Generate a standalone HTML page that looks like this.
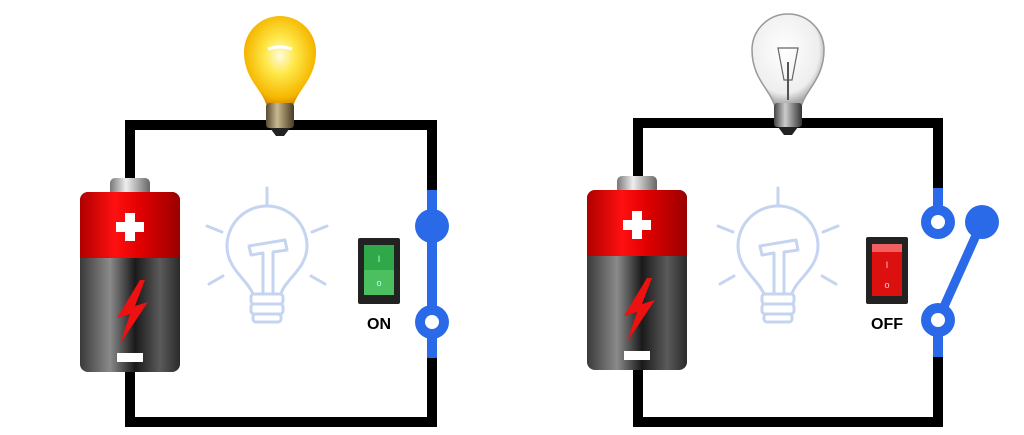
<!DOCTYPE html>
<html><head><meta charset="utf-8"><style>
html,body{margin:0;padding:0;background:#fff;}
svg{display:block}
</style></head><body>
<svg width="1024" height="435" viewBox="0 0 1024 435" xmlns="http://www.w3.org/2000/svg">
<defs>
  <linearGradient id="red" x1="0" x2="1">
    <stop offset="0" stop-color="#b00000"/><stop offset="0.35" stop-color="#ff1010"/><stop offset="0.6" stop-color="#e00000"/><stop offset="1" stop-color="#9a0000"/>
  </linearGradient>
  <linearGradient id="gray" x1="0" x2="1">
    <stop offset="0" stop-color="#3a3a3a"/><stop offset="0.3" stop-color="#8a8a8a"/><stop offset="0.55" stop-color="#1a1a1a"/><stop offset="0.8" stop-color="#5a5a5a"/><stop offset="1" stop-color="#2a2a2a"/>
  </linearGradient>
  <linearGradient id="cap" x1="0" x2="1">
    <stop offset="0" stop-color="#777"/><stop offset="0.4" stop-color="#eee"/><stop offset="1" stop-color="#666"/>
  </linearGradient>
  <radialGradient id="lit" cx="0.5" cy="0.45" r="0.6">
    <stop offset="0" stop-color="#fffbe0"/><stop offset="0.35" stop-color="#ffe84a"/><stop offset="0.8" stop-color="#f5b800"/><stop offset="1" stop-color="#d08000"/>
  </radialGradient>
  <radialGradient id="off" cx="0.45" cy="0.4" r="0.6">
    <stop offset="0" stop-color="#ffffff"/><stop offset="0.8" stop-color="#eeeeee"/><stop offset="1" stop-color="#aaaaaa"/>
  </radialGradient>
  <linearGradient id="base" x1="0" x2="1">
    <stop offset="0" stop-color="#5a4a30"/><stop offset="0.4" stop-color="#c8b890"/><stop offset="1" stop-color="#4a3a20"/>
  </linearGradient>
  <linearGradient id="base2" x1="0" x2="1">
    <stop offset="0" stop-color="#444"/><stop offset="0.4" stop-color="#ccc"/><stop offset="1" stop-color="#333"/>
  </linearGradient>
  <g id="battery">
    <rect x="30" y="-14" width="40" height="18" rx="5" fill="url(#cap)"/>
    <rect x="0" y="0" width="100" height="180" rx="8" fill="url(#gray)"/>
    <path d="M8 0 H92 A8 8 0 0 1 100 8 V66 H0 V8 A8 8 0 0 1 8 0Z" fill="url(#red)"/>
    <path d="M45 21 h10 v9 h9 v10 h-9 v9 h-10 v-9 h-9 v-10 h9z" fill="#fff"/>
    <path d="M60 88 L37 126 L50 122 L40 152 L68 110 L55 114 L65 88Z" fill="#ee1111"/>
    <rect x="37" y="161" width="26" height="9" fill="#fff"/>
  </g>
  <g id="ghost" fill="none" stroke="#c5d4f0" stroke-width="3" stroke-linecap="round" stroke-linejoin="round">
    <line x1="0" y1="-66" x2="0" y2="-50"/>
    <line x1="-60" y1="-28" x2="-45" y2="-22"/><line x1="60" y1="-28" x2="45" y2="-22"/>
    <line x1="-58" y1="30" x2="-44" y2="22"/><line x1="58" y1="30" x2="44" y2="22"/>
    <path d="M-14 40 C-20 25 -40 15 -40 -8 A40 40 0 1 1 40 -8 C40 15 18 25 14 40"/>
    <path d="M-18 -8 L18 -14 L20 -4 L6 -2 V40 H-4 V-1 L-16 1Z"/>
    <rect x="-16" y="40" width="32" height="10" rx="3"/><rect x="-16" y="50" width="32" height="10" rx="3"/><rect x="-14" y="60" width="28" height="8" rx="3"/>
  </g>
</defs>

<!-- LEFT circuit -->
<path d="M130 192 V125 H432 V422 H130 V370" fill="none" stroke="#000" stroke-width="10"/>
<line x1="432" y1="190" x2="432" y2="358" stroke="#2a6ae8" stroke-width="10"/>
<circle cx="432" cy="226" r="17" fill="#2a6ae8"/>
<circle cx="432" cy="322" r="17" fill="#2a6ae8"/><circle cx="432" cy="322" r="7" fill="#fff"/>
<use href="#battery" transform="translate(80,192)"/>
<use href="#ghost" transform="translate(267,254)"/>
<rect x="358" y="238" width="42" height="66" rx="2" fill="#222"/>
<rect x="364" y="245" width="30" height="50" fill="#2fa84a"/>
<rect x="364" y="270" width="30" height="25" fill="#4cc060"/>
<text x="379" y="262" font-family="Liberation Sans" font-size="9" fill="#bfe" text-anchor="middle">I</text>
<text x="379" y="286" font-family="Liberation Sans" font-size="9" fill="#bfe" text-anchor="middle">o</text>
<text x="379" y="329" font-family="Liberation Sans" font-weight="bold" font-size="16" text-anchor="middle" fill="#000">ON</text>
<!-- lit bulb -->
<path d="M266 104 C262 90 244 78 244 52 A36 36 0 0 1 316 52 C316 78 298 90 294 104Z" fill="url(#lit)"/>
<path d="M268 49 q12 -4 24 0" stroke="#fff" stroke-width="3" fill="none"/>
<rect x="266" y="103" width="28" height="25" rx="3" fill="url(#base)"/>
<path d="M270 128 H290 L284 136 H276Z" fill="#222"/>

<!-- RIGHT circuit -->
<path d="M638 190 V123 H938 V188 M938 357 V422 H638 V368" fill="none" stroke="#000" stroke-width="10"/>
<line x1="938" y1="188" x2="938" y2="222" stroke="#2a6ae8" stroke-width="10"/>
<line x1="938" y1="320" x2="938" y2="357" stroke="#2a6ae8" stroke-width="10"/>
<line x1="938" y1="320" x2="982" y2="222" stroke="#2a6ae8" stroke-width="9"/>
<circle cx="938" cy="222" r="17" fill="#2a6ae8"/><circle cx="938" cy="222" r="7" fill="#fff"/>
<circle cx="938" cy="320" r="17" fill="#2a6ae8"/><circle cx="938" cy="320" r="7" fill="#fff"/>
<circle cx="982" cy="222" r="17" fill="#2a6ae8"/>
<use href="#battery" transform="translate(587,190)"/>
<use href="#ghost" transform="translate(778,254)"/>
<rect x="866" y="237" width="42" height="67" rx="2" fill="#222"/>
<rect x="872" y="244" width="30" height="52" fill="#dd1010"/>
<rect x="872" y="244" width="30" height="8" fill="#f06060"/>
<text x="887" y="268" font-family="Liberation Sans" font-size="9" fill="#fcc" text-anchor="middle">I</text>
<text x="887" y="288" font-family="Liberation Sans" font-size="9" fill="#fcc" text-anchor="middle">o</text>
<text x="887" y="329" font-family="Liberation Sans" font-weight="bold" font-size="16" text-anchor="middle" fill="#000">OFF</text>
<!-- off bulb -->
<path d="M774 104 C770 90 752 78 752 50 A36 36 0 0 1 824 50 C824 78 806 90 802 104Z" fill="url(#off)" stroke="#999" stroke-width="1.5"/>
<path d="M778 48 L798 48 L792 80 L784 80Z" fill="none" stroke="#666" stroke-width="1.2"/>
<line x1="788" y1="62" x2="788" y2="100" stroke="#555" stroke-width="2"/>
<rect x="774" y="103" width="28" height="24" rx="3" fill="url(#base2)"/>
<path d="M778 127 H798 L792 135 H784Z" fill="#222"/>
</svg>
</body></html>
